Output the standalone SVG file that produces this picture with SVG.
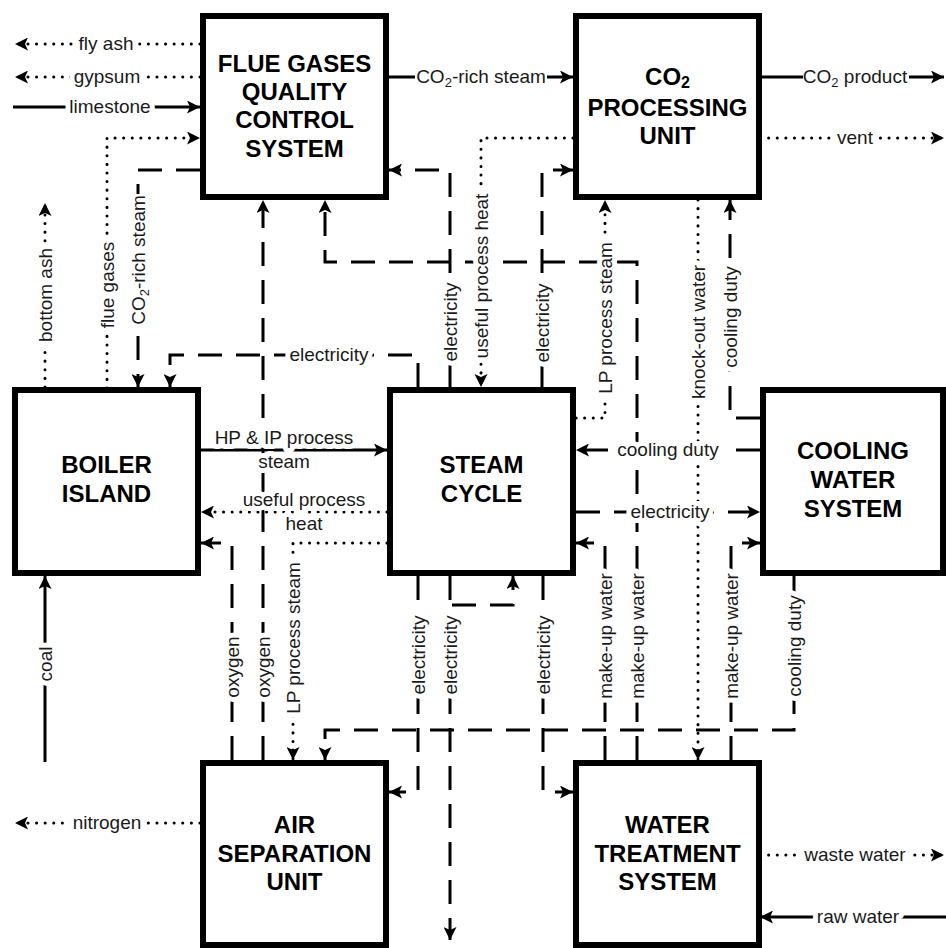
<svg xmlns="http://www.w3.org/2000/svg" width="946" height="948" viewBox="0 0 946 948">
<style>
.bx{fill:#fff;stroke:#000;stroke-width:6}
.bt{font-family:"Liberation Sans",Arial,sans-serif;font-weight:bold;font-size:24px;text-anchor:middle;fill:#000}
.c{fill:none;stroke:#000;stroke-width:3}
.d{stroke-dasharray:24 14}
.o{stroke-dasharray:0.1 8.5;stroke-linecap:round}
.lb{font-family:"Liberation Sans",Arial,sans-serif;font-size:19px;text-anchor:middle;fill:#1a1a1a;paint-order:stroke;stroke:#fff;stroke-width:10px;stroke-linejoin:round}
.lb.ns{stroke:none}
.bg{fill:#fff}
</style>
<defs>
<marker id="ah" viewBox="0 0 13 13" markerWidth="13" markerHeight="13" refX="13" refY="6.5" orient="auto" markerUnits="userSpaceOnUse">
<path d="M0,0 L13,6.5 L0,13 L3,6.5 z" fill="#000"/>
</marker>
</defs>
<rect width="946" height="948" fill="#fff"/>
<g id="connectors">
<path class="c o" d="M200,44 H15" marker-end="url(#ah)"/>
<path class="c o" d="M200,77 H15" marker-end="url(#ah)"/>
<path class="c" d="M13,107 H200" marker-end="url(#ah)"/>
<path class="c o" d="M107,388 V138 H200" marker-end="url(#ah)"/>
<path class="c d" d="M200,170 H138 V387" marker-end="url(#ah)"/>
<path class="c o" d="M45,387 V203" marker-end="url(#ah)"/>
<path class="c" d="M45,762 V576" marker-end="url(#ah)"/>
<path class="c o" d="M200,823 H15" marker-end="url(#ah)"/>
<path class="c" d="M389,77 H573" marker-end="url(#ah)"/>
<path class="c" d="M760,77 H944" marker-end="url(#ah)"/>
<path class="c o" d="M760,138 H944" marker-end="url(#ah)"/>
<path class="c o" d="M573,138 H481 V387" marker-end="url(#ah)"/>
<path class="c d" d="M450,387 V170 H389" marker-end="url(#ah)"/>
<path class="c d" d="M542,387 V170 H573" marker-end="url(#ah)"/>
<path class="c d" d="M637,760 V262 H325 V200" marker-end="url(#ah)"/>
<path class="c d" d="M605,760 V543 H576" marker-end="url(#ah)"/>
<path class="c d" d="M731,760 V543 H760" marker-end="url(#ah)"/>
<path class="c d" d="M794,576 V730 H325 V760" marker-end="url(#ah)"/>
<path class="c d" d="M418,576 V792 H389" marker-end="url(#ah)"/>
<path class="c d" d="M450,576 V940" marker-end="url(#ah)"/>
<path class="c d" d="M452,605 H513 V576" marker-end="url(#ah)"/>
<path class="c d" d="M543,576 V792 H573" marker-end="url(#ah)"/>
<path class="c d" d="M232,760 V543 H201" marker-end="url(#ah)"/>
<path class="c d" d="M263,760 V200" marker-end="url(#ah)"/>
<path class="c o" d="M387,543 H293 V760" marker-end="url(#ah)"/>
<path class="c o" d="M387,512 H201" marker-end="url(#ah)"/>
<path class="c" d="M201,450 H387" marker-end="url(#ah)"/>
<path class="c d" d="M418,387 V355 H170 V387" marker-end="url(#ah)"/>
<path class="c o" d="M576,418 H605 V200" marker-end="url(#ah)"/>
<path class="c o" d="M698,200 V760" marker-end="url(#ah)"/>
<path class="c d" d="M760,418 H730 V200" marker-end="url(#ah)"/>
<path class="c d" d="M760,450 H576" marker-end="url(#ah)"/>
<path class="c d" d="M576,512 H760" marker-end="url(#ah)"/>
<path class="c o" d="M760,855 H944" marker-end="url(#ah)"/>
<path class="c" d="M946,917 H760" marker-end="url(#ah)"/>

<rect class="bg" x="128" y="194" width="20" height="133"/>
<rect class="bg" x="415" y="67" width="132" height="21"/>
<rect class="bg" x="803" y="67" width="106" height="21"/>

<text class="lb" x="106" y="50">fly ash</text>
<text class="lb" x="107" y="83">gypsum</text>
<text class="lb" x="110" y="113">limestone</text>
<text class="lb" transform="translate(107,285) rotate(-90)" y="6.5">flue gases</text>
<text class="lb ns" transform="translate(138,260) rotate(-90)" y="6.5">CO<tspan font-size="13" dy="4">2</tspan><tspan dy="-4">-rich steam</tspan></text>
<text class="lb" transform="translate(45,295) rotate(-90)" y="6.5">bottom ash</text>
<text class="lb" transform="translate(45,664) rotate(-90)" y="6.5">coal</text>
<text class="lb" x="107" y="829">nitrogen</text>
<text class="lb ns" x="481" y="83">CO<tspan font-size="13" dy="4">2</tspan><tspan dy="-4">-rich steam</tspan></text>
<text class="lb ns" x="855" y="83">CO<tspan font-size="13" dy="4">2</tspan><tspan dy="-4"> product</tspan></text>
<text class="lb" x="855" y="144">vent</text>
<text class="lb" transform="translate(481,276) rotate(-90)" y="6.5">useful process heat</text>
<text class="lb" transform="translate(450,322) rotate(-90)" y="6.5">electricity</text>
<text class="lb" transform="translate(542,323) rotate(-90)" y="6.5">electricity</text>
<text class="lb" transform="translate(605,318) rotate(-90)" y="6.5">LP process steam</text>
<text class="lb" transform="translate(698,332) rotate(-90)" y="6.5">knock-out water</text>
<text class="lb" transform="translate(730,317) rotate(-90)" y="6.5">cooling duty</text>
<text class="lb" x="329" y="361">electricity</text>
<text class="lb" x="284" y="444">HP &amp; IP process</text>
<text class="lb" x="284" y="468">steam</text>
<text class="lb" x="304" y="506">useful process</text>
<text class="lb" x="304" y="530">heat</text>
<text class="lb" x="668" y="456">cooling duty</text>
<text class="lb" x="670" y="518">electricity</text>
<text class="lb" transform="translate(232,667) rotate(-90)" y="6.5">oxygen</text>
<text class="lb" transform="translate(263,667) rotate(-90)" y="6.5">oxygen</text>
<text class="lb" transform="translate(293,638) rotate(-90)" y="6.5">LP process steam</text>
<text class="lb" transform="translate(418,655) rotate(-90)" y="6.5">electricity</text>
<text class="lb" transform="translate(450,655) rotate(-90)" y="6.5">electricity</text>
<text class="lb" transform="translate(543,655) rotate(-90)" y="6.5">electricity</text>
<text class="lb" transform="translate(605,636) rotate(-90)" y="6.5">make-up water</text>
<text class="lb" transform="translate(637,636) rotate(-90)" y="6.5">make-up water</text>
<text class="lb" transform="translate(731,636) rotate(-90)" y="6.5">make-up water</text>
<text class="lb" transform="translate(794,646) rotate(-90)" y="6.5">cooling duty</text>
<text class="lb" x="855" y="861">waste water</text>
<text class="lb" x="858" y="923">raw water</text>
</g>
<g id="fgqcs">
<rect class="bx" x="203" y="16" width="183" height="181"/>
<text class="bt" x="294.5" y="72">FLUE GASES</text>
<text class="bt" x="294.5" y="100">QUALITY</text>
<text class="bt" x="294.5" y="128">CONTROL</text>
<text class="bt" x="294.5" y="157">SYSTEM</text>
</g>
<g id="cpu">
<rect class="bx" x="576" y="16" width="183" height="181"/>
<text class="bt" x="667.5" y="85">CO<tspan font-size="16" dy="3">2</tspan></text>
<text class="bt" x="667.5" y="116">PROCESSING</text>
<text class="bt" x="667.5" y="144">UNIT</text>
</g>
<g id="boiler">
<rect class="bx" x="15" y="390" width="183" height="183"/>
<text class="bt" x="106.5" y="473">BOILER</text>
<text class="bt" x="106.5" y="502">ISLAND</text>
</g>
<g id="steam">
<rect class="bx" x="390" y="390" width="183" height="183"/>
<text class="bt" x="481.5" y="473">STEAM</text>
<text class="bt" x="481.5" y="502">CYCLE</text>
</g>
<g id="cooling">
<rect class="bx" x="763" y="390" width="180" height="183"/>
<text class="bt" x="853" y="459">COOLING</text>
<text class="bt" x="853" y="488">WATER</text>
<text class="bt" x="853" y="517">SYSTEM</text>
</g>
<g id="asu">
<rect class="bx" x="203" y="763" width="183" height="182"/>
<text class="bt" x="294.5" y="833">AIR</text>
<text class="bt" x="294.5" y="862">SEPARATION</text>
<text class="bt" x="294.5" y="890">UNIT</text>
</g>
<g id="wts">
<rect class="bx" x="576" y="763" width="183" height="182"/>
<text class="bt" x="667.5" y="833">WATER</text>
<text class="bt" x="667.5" y="862">TREATMENT</text>
<text class="bt" x="667.5" y="890">SYSTEM</text>
</g>
</svg>
